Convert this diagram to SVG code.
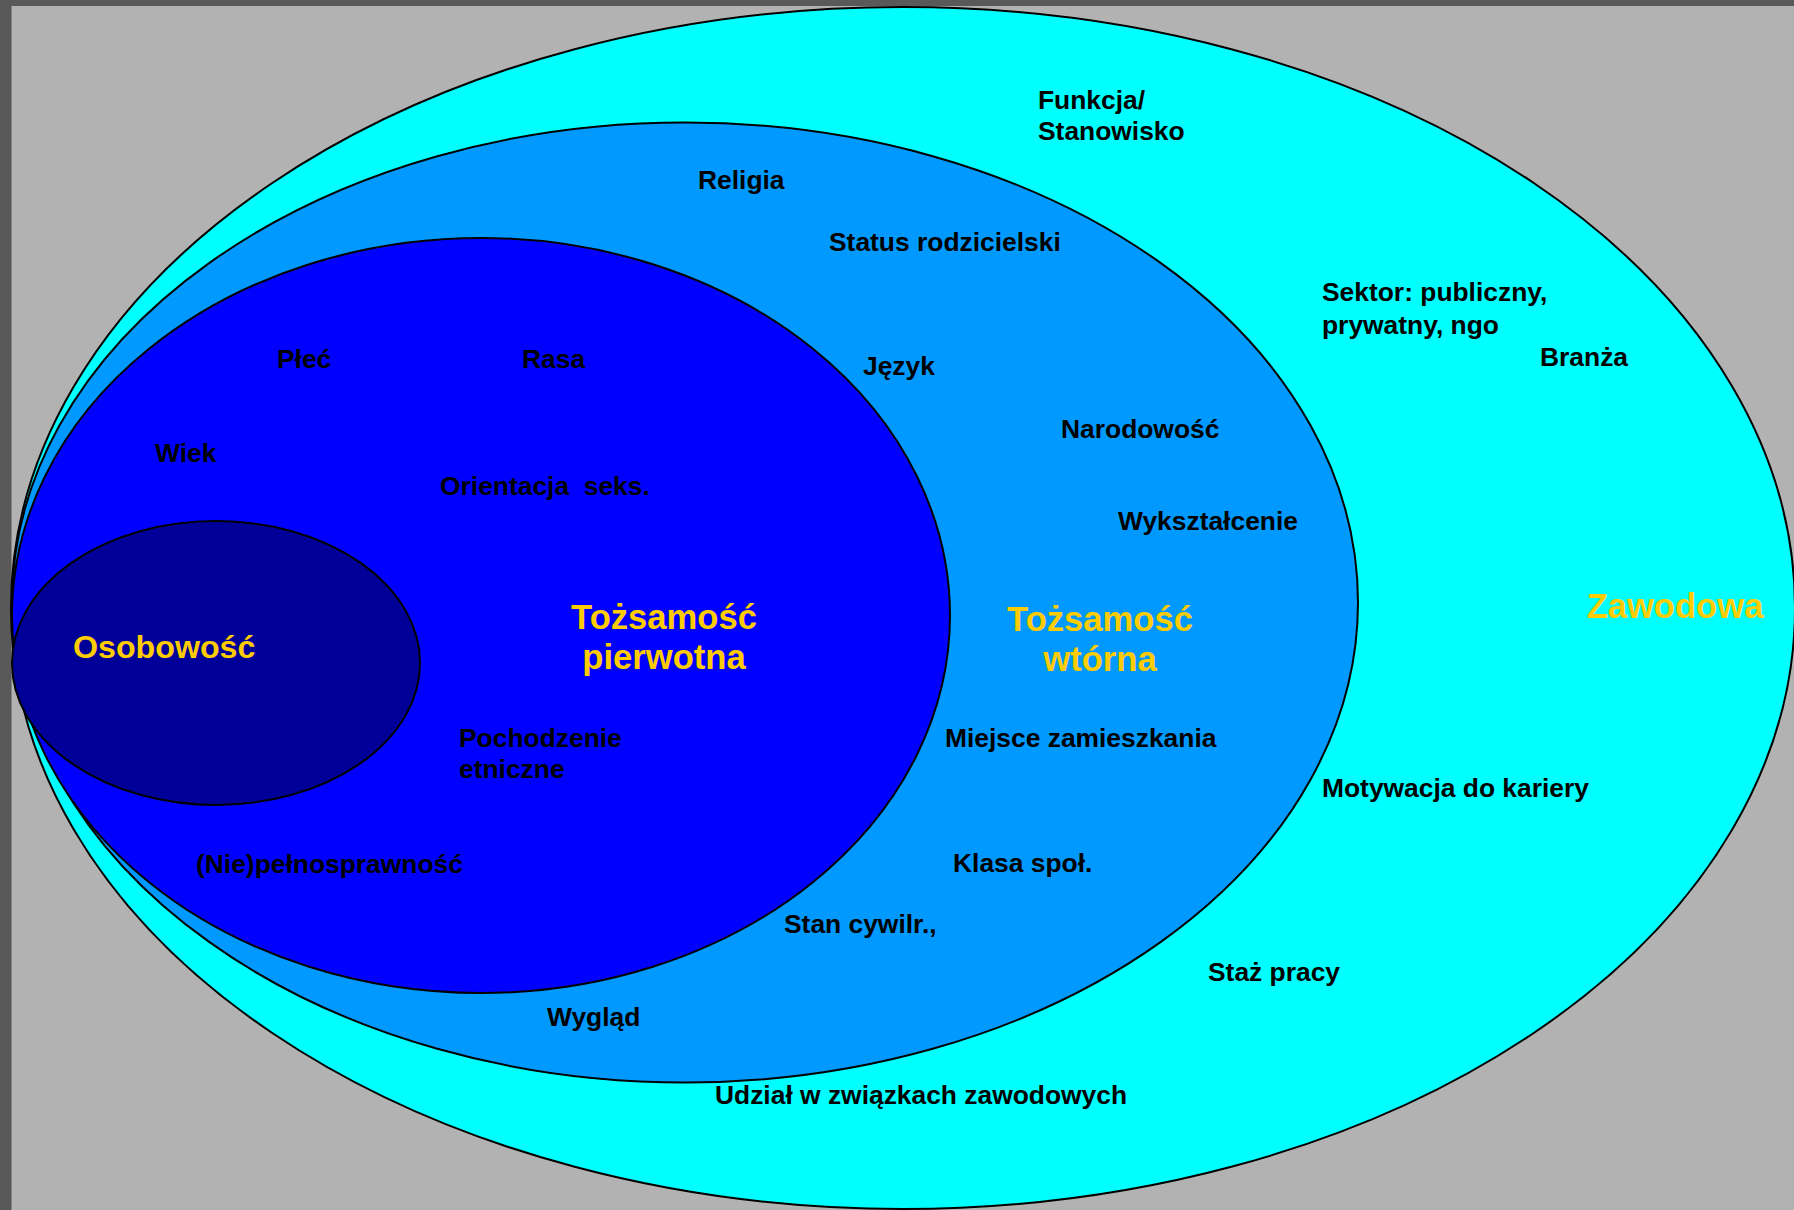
<svg xmlns="http://www.w3.org/2000/svg" width="1794" height="1210" viewBox="0 0 1794 1210">
<style>
.e{stroke:#000;stroke-width:2}
.t{font-family:"Liberation Sans",Arial,sans-serif;font-weight:bold;font-size:26.4px;fill:#000;white-space:pre}
.y{font-family:"Liberation Sans",Arial,sans-serif;font-weight:bold;font-size:34.6px;fill:#ffcc00}
</style>
<rect x="0" y="0" width="1794" height="1210" fill="#595959"/>
<rect x="11.5" y="6" width="1782.5" height="1204" fill="#b2b2b2"/>
<g id="zawodowa">
<ellipse class="e" cx="903" cy="608" rx="892" ry="601" fill="#00ffff"/>
<text class="y" x="1675" y="618" text-anchor="middle">Zawodowa</text>
<text class="t" x="1038" y="109">Funkcja/</text>
<text class="t" x="1038" y="140">Stanowisko</text>
<text class="t" x="1322" y="301">Sektor: publiczny,</text>
<text class="t" x="1322" y="334">prywatny, ngo</text>
<text class="t" x="1540" y="366">Branża</text>
<text class="t" x="1322" y="797">Motywacja do kariery</text>
<text class="t" x="1208" y="981">Staż pracy</text>
<text class="t" x="715" y="1104">Udział w związkach zawodowych</text>
</g>
<g id="wtorna">
<ellipse class="e" cx="685" cy="602.5" rx="673" ry="480" fill="#0099ff"/>
<text class="y" x="1100" y="631" text-anchor="middle">Tożsamość</text>
<text class="y" x="1100" y="671" text-anchor="middle">wtórna</text>
<text class="t" x="698" y="189">Religia</text>
<text class="t" x="829" y="251">Status rodzicielski</text>
<text class="t" x="863" y="375">Język</text>
<text class="t" x="1061" y="438">Narodowość</text>
<text class="t" x="1118" y="530">Wykształcenie</text>
<text class="t" x="945" y="747">Miejsce zamieszkania</text>
<text class="t" x="953" y="872">Klasa społ.</text>
<text class="t" x="784" y="933">Stan cywilr.,</text>
<text class="t" x="547" y="1026">Wygląd</text>
</g>
<g id="pierwotna">
<ellipse class="e" cx="481" cy="615.5" rx="469" ry="377.5" fill="#0000ff"/>
<text class="y" x="664" y="629" text-anchor="middle">Tożsamość</text>
<text class="y" x="664" y="669" text-anchor="middle">pierwotna</text>
<text class="t" x="277" y="368">Płeć</text>
<text class="t" x="522" y="368">Rasa</text>
<text class="t" x="155" y="462">Wiek</text>
<text class="t" x="440" y="495">Orientacja  seks.</text>
<text class="t" x="459" y="747">Pochodzenie</text>
<text class="t" x="459" y="778">etniczne</text>
<text class="t" x="196" y="873">(Nie)pełnosprawność</text>
</g>
<g id="osobowosc">
<ellipse class="e" cx="216" cy="663" rx="204" ry="142" fill="#000099"/>
<text class="y" x="73" y="658" style="font-size:32.2px">Osobowość</text>
</g>
<g id="connectors"/>
</svg>
